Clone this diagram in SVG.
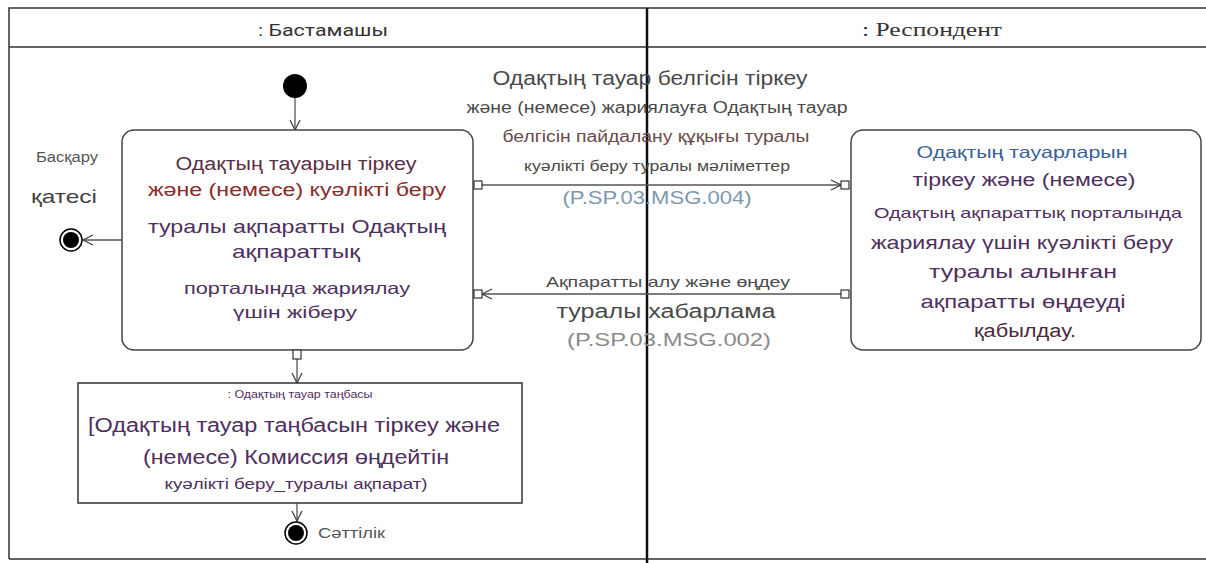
<svg xmlns="http://www.w3.org/2000/svg" width="1206" height="563" viewBox="0 0 1206 563">
<style>
.frame{fill:none;stroke:#333;stroke-width:1.5}
.div{stroke:#111;stroke-width:2.5}
.act{fill:#fff;stroke:#444;stroke-width:1.5}
.pin{fill:#fff;stroke:#333;stroke-width:1.2}
.edge{fill:none;stroke:#555;stroke-width:1.3}
.t{font-family:"Liberation Sans",Arial,sans-serif;text-anchor:middle}
.p{fill:#4e2f5e}
.g{fill:#4a4a4a}
</style>
<defs>
<marker id="open" viewBox="0 0 12 12" refX="11" refY="6" markerWidth="12" markerHeight="12" markerUnits="userSpaceOnUse" orient="auto">
<path d="M1,1 L11,6 L1,11" fill="none" stroke="#444" stroke-width="1.3"/>
</marker>
</defs>
<rect width="1206" height="563" fill="#fff"/>
<g id="swimlanes">
<path class="frame" d="M9,559 V8 H1206 M9,47 H1206 M9,559 H1206"/>
<line class="div" x1="647" y1="8" x2="647" y2="563"/>
<text x="323" y="36" font-family="Roboto,sans-serif" font-size="16" fill="#333" text-anchor="middle" textLength="130" lengthAdjust="spacingAndGlyphs">: Бастамашы</text>
<text x="932" y="36" font-family="Liberation Serif,serif" font-size="19" fill="#333" text-anchor="middle" textLength="140" lengthAdjust="spacingAndGlyphs">: Респондент</text>
</g>
<g id="connectors">
<line class="edge" x1="295" y1="98" x2="295" y2="130" marker-end="url(#open)"/>
<line class="edge" x1="122" y1="240" x2="83" y2="240" marker-end="url(#open)"/>
<line class="edge" x1="482" y1="185" x2="841" y2="185" marker-end="url(#open)"/>
<line class="edge" x1="841" y1="294" x2="482" y2="294" marker-end="url(#open)"/>
<line class="edge" x1="297" y1="359" x2="297" y2="383" marker-end="url(#open)"/>
<line class="edge" x1="297" y1="503" x2="297" y2="521" marker-end="url(#open)"/>
</g>
<g id="start">
<circle cx="295" cy="86" r="12" fill="#000"/>
</g>
<g id="action-send">
<rect class="act" x="122" y="130" width="351" height="220" rx="12"/>
<rect class="pin" x="474" y="181" width="8" height="8"/>
<rect class="pin" x="474" y="290" width="8" height="8"/>
<rect class="pin" x="293" y="350" width="8" height="9"/>
<text class="t" x="296" y="170" font-size="18" fill="#5a3044" textLength="241" lengthAdjust="spacingAndGlyphs">Одақтың тауарын тіркеу</text>
<text class="t" x="297" y="196" font-size="18" fill="#8a2a2a" textLength="298" lengthAdjust="spacingAndGlyphs">және (немесе) куәлікті беру</text>
<text class="t p" x="297" y="233" font-size="19" textLength="298" lengthAdjust="spacingAndGlyphs">туралы ақпаратты Одақтың</text>
<text class="t p" x="296" y="258" font-size="19" textLength="128" lengthAdjust="spacingAndGlyphs">ақпараттық</text>
<text class="t p" x="297" y="294" font-size="16.5" textLength="226" lengthAdjust="spacingAndGlyphs">порталында жариялау</text>
<text class="t p" x="295" y="318" font-size="17" textLength="124" lengthAdjust="spacingAndGlyphs">үшін жіберу</text>
</g>
<g id="action-receive">
<rect class="act" x="851" y="130" width="350" height="220" rx="12"/>
<rect class="pin" x="841" y="181" width="8" height="8"/>
<rect class="pin" x="841" y="290" width="8" height="8"/>
<text class="t" x="1022" y="158" font-size="16.5" fill="#3a5f9a" textLength="211" lengthAdjust="spacingAndGlyphs">Одақтың тауарларын</text>
<text class="t p" x="1024" y="186" font-size="18" textLength="223" lengthAdjust="spacingAndGlyphs">тіркеу және (немесе)</text>
<text class="t p" x="1028" y="218" font-size="15" textLength="308" lengthAdjust="spacingAndGlyphs">Одақтың ақпараттық порталында</text>
<text class="t p" x="1022" y="249" font-size="19" textLength="302" lengthAdjust="spacingAndGlyphs">жариялау үшін куәлікті беру</text>
<text class="t p" x="1023" y="278" font-size="19" textLength="188" lengthAdjust="spacingAndGlyphs">туралы алынған</text>
<text class="t p" x="1023" y="308" font-size="19" textLength="205" lengthAdjust="spacingAndGlyphs">ақпаратты өңдеуді</text>
<text class="t" x="1025" y="337" font-size="18" fill="#4a2a3a" textLength="102" lengthAdjust="spacingAndGlyphs">қабылдау.</text>
</g>
<g id="msg-004">
<text class="t g" x="650" y="85" font-size="20" textLength="315" lengthAdjust="spacingAndGlyphs">Одақтың тауар белгісін тіркеу</text>
<text class="t g" x="657" y="113" font-size="16" textLength="381" lengthAdjust="spacingAndGlyphs">және (немесе) жариялауға Одақтың тауар</text>
<text class="t" x="656" y="142" font-size="16" fill="#6a4a4a" textLength="307" lengthAdjust="spacingAndGlyphs">белгісін пайдалану құқығы туралы</text>
<text class="t g" x="657" y="171" font-size="14" textLength="266" lengthAdjust="spacingAndGlyphs">куәлікті беру туралы мәліметтер</text>
<text class="t" x="657" y="204" font-size="18" fill="#7d97b0" textLength="189" lengthAdjust="spacingAndGlyphs">(P.SP.03.MSG.004)</text>
</g>
<g id="msg-002">
<text class="t g" x="668" y="287" font-size="15" textLength="244" lengthAdjust="spacingAndGlyphs">Ақпаратты алу және өңдеу</text>
<text class="t g" x="666" y="318" font-size="20" textLength="219" lengthAdjust="spacingAndGlyphs">туралы хабарлама</text>
<text class="t" x="669" y="346" font-size="19" fill="#8a8a8a" textLength="204" lengthAdjust="spacingAndGlyphs">(P.SP.03.MSG.002)</text>
</g>
<g id="final-error">
<circle cx="71" cy="240" r="11" fill="#fff" stroke="#000" stroke-width="1.5"/>
<circle cx="71" cy="240" r="8" fill="#000"/>
<text class="t" x="67" y="162" font-size="14" fill="#555" textLength="62" lengthAdjust="spacingAndGlyphs">Басқару</text>
<text class="t" x="64" y="203" font-size="19" fill="#444" textLength="66" lengthAdjust="spacingAndGlyphs">қатесі</text>
</g>
<g id="object-node">
<rect x="78" y="383" width="444" height="120" fill="#fff" stroke="#333" stroke-width="1.5"/>
<text class="t p" x="300" y="398" font-size="10" textLength="145" lengthAdjust="spacingAndGlyphs">: Одақтың тауар таңбасы</text>
<text class="t p" x="294" y="432" font-size="20" textLength="412" lengthAdjust="spacingAndGlyphs">[Одақтың тауар таңбасын тіркеу және</text>
<text class="t p" x="296" y="464" font-size="20" textLength="306" lengthAdjust="spacingAndGlyphs">(немесе) Комиссия өңдейтін</text>
<text class="t p" x="296" y="489" font-size="14" textLength="263" lengthAdjust="spacingAndGlyphs">куәлікті беру_туралы ақпарат)</text>
</g>
<g id="final-success">
<circle cx="296" cy="533" r="11" fill="#fff" stroke="#000" stroke-width="1.5"/>
<circle cx="296" cy="533" r="8" fill="#000"/>
<text x="318" y="538" font-family="Liberation Sans,Arial,sans-serif" font-size="15" fill="#555" textLength="67" lengthAdjust="spacingAndGlyphs">Сәттілік</text>
</g>
</svg>
